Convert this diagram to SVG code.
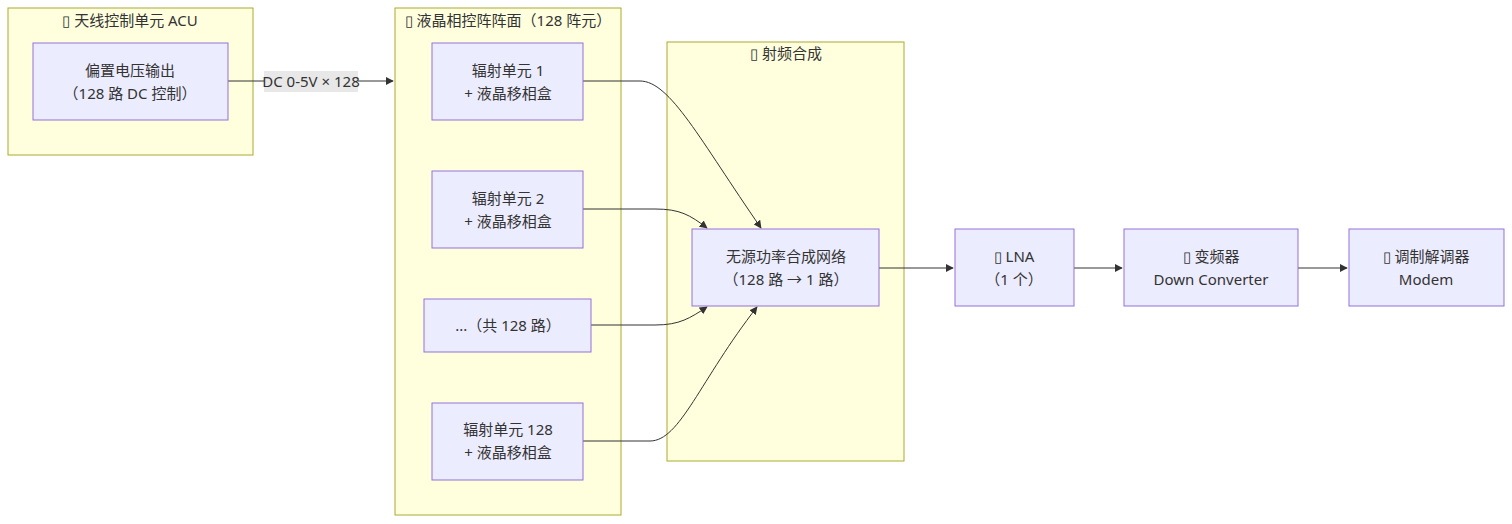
<svg xmlns="http://www.w3.org/2000/svg" width="1512" height="524" viewBox="0 0 1512 524">
<defs>
<style>
text{font-family:"Noto Sans","Noto Sans CJK SC",sans-serif;font-size:15px;fill:#333;text-anchor:middle}
.cl{fill:#ffffde;stroke:#aaaa33;stroke-width:1}
.nd{fill:#ececff;stroke:#9370db;stroke-width:1}
.e{fill:none;stroke:#333;stroke-width:1}
</style>
<marker id="a" viewBox="0 0 10 10" refX="9" refY="5" markerWidth="8" markerHeight="8" orient="auto"><path d="M0,0L10,5L0,10z" fill="#333"/></marker>
</defs>
<rect width="1512" height="524" fill="#fff"/>
<g id="acu"><rect class="cl" x="8" y="8" width="245" height="147"/><text x="130" y="26">▯ 天线控制单元 ACU</text></g>
<g id="array"><rect class="cl" x="395" y="8" width="226" height="507"/><text x="508" y="26">▯ 液晶相控阵阵面（128 阵元）</text></g>
<g id="rf"><rect class="cl" x="667" y="42" width="237" height="419"/><text x="786" y="59">▯ 射频合成</text></g>
<g id="edges">
<path class="e" d="M228,81H393" marker-end="url(#a)"/>
<rect x="264" y="71" width="94" height="21" fill="#e8e8e8"/><text x="311" y="87">DC 0-5V × 128</text>
<path class="e" d="M583,81H640C670,81 700,140 761,228" marker-end="url(#a)"/>
<path class="e" d="M583,209H655C680,209 690,215 707,228" marker-end="url(#a)"/>
<path class="e" d="M591,325H655C680,325 690,318 707,307" marker-end="url(#a)"/>
<path class="e" d="M583,441H650C680,441 700,380 757,307" marker-end="url(#a)"/>
<path class="e" d="M879,268H953" marker-end="url(#a)"/>
<path class="e" d="M1074,268H1122" marker-end="url(#a)"/>
<path class="e" d="M1298,268H1347" marker-end="url(#a)"/>
</g>
<g id="bias"><rect class="nd" x="33" y="43" width="195" height="77"/><text x="130" y="76">偏置电压输出</text><text x="130" y="99">（128 路 DC 控制）</text></g>
<g id="e1"><rect class="nd" x="432" y="43" width="151" height="77"/><text x="508" y="76">辐射单元 1</text><text x="508" y="99">+ 液晶移相盒</text></g>
<g id="e2"><rect class="nd" x="432" y="171" width="151" height="77"/><text x="508" y="204">辐射单元 2</text><text x="508" y="227">+ 液晶移相盒</text></g>
<g id="etc"><rect class="nd" x="424" y="299" width="167" height="53"/><text x="508" y="331">...（共 128 路）</text></g>
<g id="e128"><rect class="nd" x="432" y="403" width="151" height="77"/><text x="508" y="435">辐射单元 128</text><text x="508" y="458">+ 液晶移相盒</text></g>
<g id="comb"><rect class="nd" x="692" y="229" width="187" height="77"/><text x="786" y="262">无源功率合成网络</text><text x="786" y="285">（128 路 → 1 路）</text></g>
<g id="lna"><rect class="nd" x="955" y="229" width="119" height="77"/><text x="1014" y="262">▯ LNA</text><text x="1014" y="285">（1 个）</text></g>
<g id="dc"><rect class="nd" x="1124" y="229" width="174" height="77"/><text x="1211" y="262">▯ 变频器</text><text x="1211" y="285">Down Converter</text></g>
<g id="modem"><rect class="nd" x="1349" y="229" width="155" height="77"/><text x="1426" y="262">▯ 调制解调器</text><text x="1426" y="285">Modem</text></g>
</svg>
